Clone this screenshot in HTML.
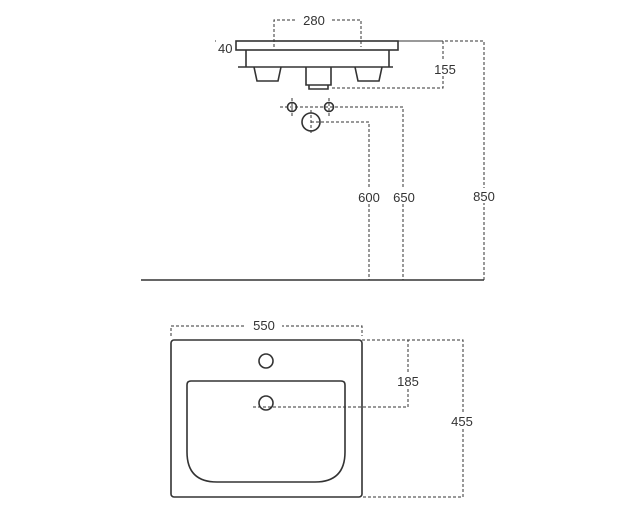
<!DOCTYPE html>
<html><head><style>body{margin:0;background:#fff}svg{display:block}text{font-family:"Liberation Sans",sans-serif;font-size:13px;fill:#333}</style></head><body>
<svg width="640" height="531" viewBox="0 0 640 531">
<g fill="none" stroke="#333" stroke-width="1" stroke-dasharray="3,2">
<path d="M274 47V20H361V47"/>
<path d="M215 41H484V280"/>
<path d="M398 41H443V88H330"/>
<path d="M218 50H398"/>
<path d="M280 107H403V280"/>
<path d="M311 122H369V280"/>
<path d="M292 98V116M329 98V116M311 110V135"/>
<path d="M171 336V326H362V336"/>
<path d="M362 340H463V497H362"/>
<path d="M362 340H408V407H251"/>
</g>
<rect x="361" y="12" width="0" height="0"/>
<rect x="296" y="13" width="36" height="14" fill="#fff"/>
<text x="314" y="25" text-anchor="middle">280</text>
<rect x="216" y="40" width="20" height="14" fill="#fff"/>
<text x="218" y="53">40</text>
<rect x="431" y="61" width="28" height="15" fill="#fff"/>
<text x="445" y="74" text-anchor="middle">155</text>
<rect x="355" y="189" width="50" height="15" fill="#fff"/>
<text x="369" y="202" text-anchor="middle">600</text>
<text x="404" y="202" text-anchor="middle">650</text>
<rect x="471" y="188" width="26" height="15" fill="#fff"/>
<text x="484" y="201" text-anchor="middle">850</text>
<rect x="246" y="318" width="36" height="15" fill="#fff"/>
<text x="264" y="330" text-anchor="middle">550</text>
<rect x="394" y="374" width="30" height="15" fill="#fff"/>
<text x="408" y="386" text-anchor="middle">185</text>
<rect x="448" y="413" width="30" height="15" fill="#fff"/>
<text x="462" y="426" text-anchor="middle">455</text>
<g fill="none" stroke="#333" stroke-width="1.6">
<rect x="236" y="41" width="162" height="9"/>
<path d="M246 50V67H389V50M238 67H393"/>
<path d="M254 67L257 81H278L281 67M306 67V85H331V67M309 85V89H328V85M355 67L358 81H379L382 67"/>
<circle cx="292" cy="107" r="4.5"/><circle cx="329" cy="107" r="4.5"/>
<circle cx="311" cy="122" r="9"/>
<path d="M141 280H484"/>
<rect x="171" y="340" width="191" height="157" rx="3"/>
<circle cx="266" cy="361" r="7"/>
<path d="M191 381H341Q345 381 345 385V452Q345 482 315 482H217Q187 482 187 452V385Q187 381 191 381Z"/>
<circle cx="266" cy="403" r="7"/>
</g>
</svg>
</body></html>
